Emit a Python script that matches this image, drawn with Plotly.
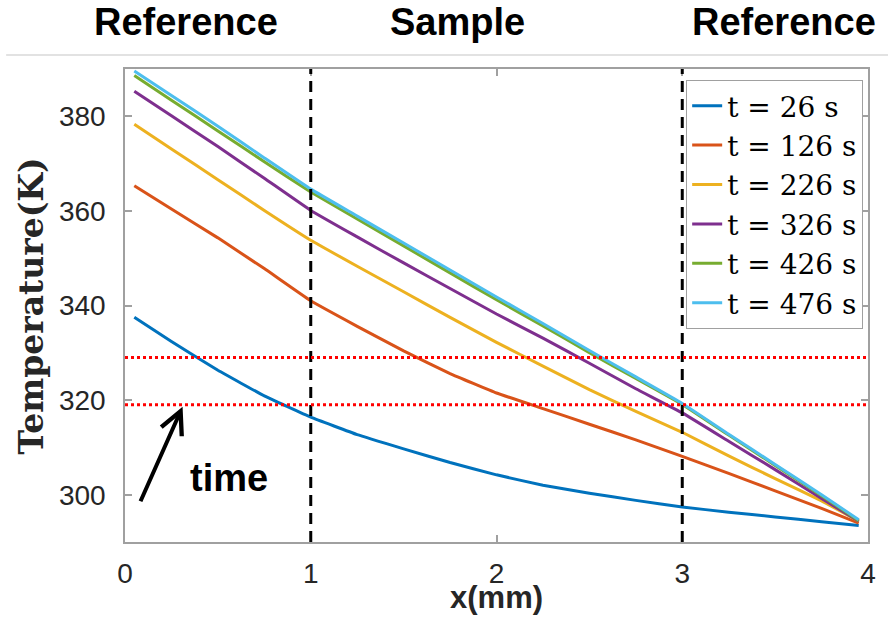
import plotly.graph_objects as go

# ---------------- data ----------------
x_mm = [0.05, 0.25, 0.5, 0.75, 1.0, 1.25, 1.5, 1.75, 2.0, 2.25, 2.5, 2.75, 3.0, 3.25, 3.5, 3.75, 3.95]

t26 = [337.5, 332.4, 326.3, 320.9, 316.4, 312.7, 309.7, 306.8, 304.2, 302.0, 300.3, 298.8, 297.4, 296.3, 295.3, 294.3, 293.5]
t126 = [365.3, 360.4, 354.3, 347.8, 341.0, 335.6, 330.4, 325.6, 321.5, 318.2, 314.9, 311.6, 308.1, 304.5, 300.8, 297.1, 294.0]
t226 = [378.3, 373.1, 366.6, 360.1, 353.8, 348.3, 342.9, 337.5, 332.2, 327.2, 322.2, 317.6, 313.2, 308.2, 303.4, 298.7, 294.4]
t326 = [385.3, 380.1, 373.6, 366.9, 360.1, 354.5, 349.0, 343.6, 338.2, 333.1, 327.8, 322.4, 317.3, 311.3, 305.3, 299.2, 294.4]
t426 = [388.6, 383.4, 376.9, 370.4, 364.0, 358.3, 352.6, 346.9, 341.2, 335.7, 330.0, 324.6, 319.1, 312.6, 306.2, 299.8, 294.5]
t476 = [389.6, 384.4, 377.9, 371.2, 364.6, 358.9, 353.2, 347.5, 341.8, 336.2, 330.5, 324.9, 319.3, 312.8, 306.4, 300.0, 294.7]

series_names = ["t = 26 s", "t = 126 s", "t = 226 s", "t = 326 s", "t = 426 s", "t = 476 s"]
series_values = [t26, t126, t226, t326, t426, t476]
series_colors = ["#0072BD", "#D95319", "#EDB120", "#7E2F8E", "#77AC30", "#4DBEEE"]

boundaries_mm = [1, 3]          # dashed black verticals
threshold_K = [319, 329]        # dotted red horizontals

x_ticks = [0, 1, 2, 3, 4]
y_ticks = [300, 320, 340, 360, 380]
x_range = [0, 4]
y_range = [290, 390]

region_labels = ["Reference", "Sample", "Reference"]
region_label_pos = [0.082, 0.448, 0.8876]  # paper x

# ---------------- figure ----------------
fig = go.Figure()

for name, vals, col in zip(series_names, series_values, series_colors):
    fig.add_trace(go.Scatter(
        x=x_mm, y=vals, mode="lines", name=name,
        line=dict(color=col, width=3, shape="spline", smoothing=0.3),
    ))

for xb in boundaries_mm:
    fig.add_shape(type="line", xref="x", yref="y",
                  x0=xb, x1=xb, y0=y_range[0], y1=y_range[1],
                  line=dict(color="black", width=3, dash="11px,7px"), layer="above")

for yt in threshold_K:
    fig.add_shape(type="line", xref="x", yref="y",
                  x0=x_range[0], x1=x_range[1], y0=yt, y1=yt,
                  line=dict(color="#ff0000", width=3, dash="3px,3px"), layer="above")

# thin separator line under the region headers
fig.add_shape(type="line", xref="paper", yref="paper",
              x0=-0.16, x1=1.03, y0=1.0296, y1=1.0296,
              line=dict(color="#d9d9d9", width=1.5))

for lab, px in zip(region_labels, region_label_pos):
    fig.add_annotation(text=lab, xref="paper", yref="paper", x=px, y=1.099,
                       showarrow=False, xanchor="center", yanchor="middle",
                       font=dict(family="Liberation Sans, Arial", size=38, color="black", weight="bold"))

# time arrow + label
fig.add_annotation(x=0.31, y=318.6, ax=0.08, ay=298.3, xref="x", yref="y",
                   axref="x", ayref="y", text="", showarrow=True,
                   arrowhead=5, arrowwidth=4, arrowsize=1.1, arrowcolor="black")
fig.add_annotation(text="time", x=0.562, y=303.6, xref="x", yref="y",
                   showarrow=False, xanchor="center", yanchor="middle",
                   font=dict(family="Liberation Sans, Arial", size=38, color="black", weight="bold"))

# axis titles as annotations
fig.add_annotation(text="x(mm)", xref="paper", yref="paper", x=0.5, y=-0.1586,
                   showarrow=False, xanchor="center", yanchor="bottom",
                   font=dict(family="Liberation Sans, Arial", size=31, color="#262626", weight="bold"))
fig.add_annotation(text="Temperature(K)", xref="paper", yref="paper", x=-0.1258, y=0.499,
                   showarrow=False, xanchor="center", yanchor="middle", textangle=-90,
                   font=dict(family="DejaVu Serif", size=33, color="#262626", weight="bold"))

axis_common = dict(
    showline=True, mirror="ticks", linecolor="#a0a0a0", linewidth=1.5,
    ticks="inside", ticklen=7, tickwidth=1.5, tickcolor="#a0a0a0",
    showgrid=False, zeroline=False,
    tickfont=dict(family="Liberation Sans, Arial", size=28, color="#262626"),
)

fig.update_xaxes(range=x_range, tickvals=x_ticks, ticktext=[str(v) for v in x_ticks],
                 ticklabelstandoff=6, **axis_common)
fig.update_yaxes(range=y_range, tickvals=y_ticks, ticktext=[str(v) for v in y_ticks],
                 ticklabelstandoff=12, **axis_common)

fig.update_layout(
    width=888, height=617,
    margin=dict(l=125, r=16, t=69, b=75),
    paper_bgcolor="white", plot_bgcolor="white",
    showlegend=True,
    legend=dict(
        x=0.9935, y=0.9767, xanchor="right", yanchor="top",
        bgcolor="white", bordercolor="#a0a0a0", borderwidth=1,
        font=dict(family="DejaVu Serif", size=28, color="black"),
    ),
)

fig.write_html("out.html")
